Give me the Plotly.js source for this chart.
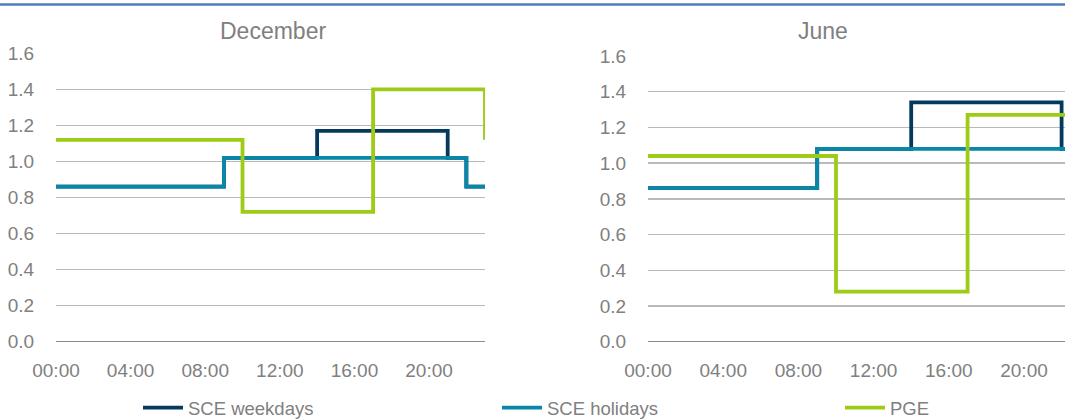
<!DOCTYPE html>
<html>
<head>
<meta charset="utf-8">
<script src="https://cdn.plot.ly/plotly-3.0.1.min.js"></script>
<style>html,body{margin:0;padding:0;background:#fff;}#chart{width:1065px;height:419px;}</style>
</head>
<body>
<div id="chart"></div>
<script>
// Hour of day (each value holds from that hour until the next)
const hours = [0,1,2,3,4,5,6,7,8,9,10,11,12,13,14,15,16,17,18,19,20,21,22,23];

// December
const decSCEWeekdays = [0.86,0.86,0.86,0.86,0.86,0.86,0.86,0.86,0.86,1.02,1.02,1.02,1.02,1.02,1.17,1.17,1.17,1.17,1.17,1.17,1.17,1.02,0.86,0.86];
const decSCEHolidays = [0.86,0.86,0.86,0.86,0.86,0.86,0.86,0.86,0.86,1.02,1.02,1.02,1.02,1.02,1.02,1.02,1.02,1.02,1.02,1.02,1.02,1.02,0.86,0.86];
const decPGE         = [1.12,1.12,1.12,1.12,1.12,1.12,1.12,1.12,1.12,1.12,0.72,0.72,0.72,0.72,0.72,0.72,0.72,1.40,1.40,1.40,1.40,1.40,1.40,1.12];

// June
const junSCEWeekdays = [0.86,0.86,0.86,0.86,0.86,0.86,0.86,0.86,0.86,1.08,1.08,1.08,1.08,1.08,1.34,1.34,1.34,1.34,1.34,1.34,1.34,1.34,1.08,1.08];
const junSCEHolidays = [0.86,0.86,0.86,0.86,0.86,0.86,0.86,0.86,0.86,1.08,1.08,1.08,1.08,1.08,1.08,1.08,1.08,1.08,1.08,1.08,1.08,1.08,1.08,1.08];
const junPGE         = [1.04,1.04,1.04,1.04,1.04,1.04,1.04,1.04,1.04,1.04,0.28,0.28,0.28,0.28,0.28,0.28,0.28,1.27,1.27,1.27,1.27,1.27,1.27,1.27];

const seriesNames = ["SCE weekdays", "SCE holidays", "PGE"];
const panelTitles = ["December", "June"];
const xTickVals = [0, 4, 8, 12, 16, 20];
const xTickText = ["00:00", "04:00", "08:00", "12:00", "16:00", "20:00"];
const yTickVals = [0, 0.2, 0.4, 0.6, 0.8, 1.0, 1.2, 1.4, 1.6];

const colors = ["#053a5e", "#0887a9", "#9dcb16"];
const W = 1065, H = 419;
const FONT = "Liberation Sans, Arial, sans-serif";
const GRAY = "#808080";

function tr(y, i, xa, ya, legend) {
  return {
    x: hours, y: y, type: "scatter", mode: "lines",
    line: {shape: "hv", color: colors[i], width: 3.8},
    name: seriesNames[i],
    xaxis: xa, yaxis: ya,
    showlegend: !!legend,
    legend: legend || "legend",
    hoverinfo: "skip"
  };
}

const data = [
  tr(decSCEWeekdays, 0, "x", "y", "legend"),
  tr(decSCEHolidays, 1, "x", "y", "legend2"),
  tr(decPGE, 2, "x", "y", "legend3"),
  tr(junSCEWeekdays, 0, "x2", "y2", null),
  tr(junSCEHolidays, 1, "x2", "y2", null),
  tr(junPGE, 2, "x2", "y2", null)
];

function xax(domain, range) {
  return {
    domain: domain, range: range, tickmode: "array",
    tickvals: xTickVals, ticktext: xTickText,
    showgrid: false, zeroline: false, showline: false,
    ticks: "outside", ticklen: 11, tickcolor: "rgba(0,0,0,0)",
    tickfont: {family: FONT, size: 19, color: GRAY},
    automargin: false,
    fixedrange: true
  };
}
function yax(domain, anchor) {
  return {
    domain: domain, range: [0, 1.6], anchor: anchor,
    tickmode: "array", tickvals: yTickVals, tickformat: ".1f",
    showgrid: true, gridcolor: "#b9b9b9", gridwidth: 1.5,
    zeroline: true, zerolinecolor: "#8c8c8c", zerolinewidth: 1.5,
    showline: false,
    ticks: "outside", ticklen: 17, tickcolor: "rgba(0,0,0,0)",
    tickfont: {family: FONT, size: 19, color: GRAY},
    automargin: false,
    fixedrange: true
  };
}

function leg(xPix) {
  return {
    orientation: "h", x: xPix / W, xanchor: "left",
    y: (H - 408) / H, yanchor: "middle",
    font: {family: FONT, size: 18.5, color: GRAY},
    bgcolor: "rgba(0,0,0,0)", borderwidth: 0, itemwidth: 40
  };
}

const layout = {
  width: W, height: H,
  margin: {l: 0, r: 0, t: 0, b: 0, autoexpand: false},
  paper_bgcolor: "#ffffff", plot_bgcolor: "#ffffff",
  xaxis: Object.assign(xax([56 / W, 485 / W], [0, 23]), {anchor: "y"}),
  yaxis: yax([(H - 341.7) / H, (H - 53.3) / H], "x"),
  xaxis2: Object.assign(xax([648 / W, 1], [0, (W - 648) / 18.8]), {anchor: "y2"}),
  yaxis2: yax([(H - 341.7) / H, (H - 56) / H], "x2"),
  showlegend: true,
  legend: leg(138),
  legend2: leg(497),
  legend3: leg(840),
  annotations: [
    {text: panelTitles[0], xref: "paper", yref: "paper", x: 273 / W, y: (H - 31) / H,
     xanchor: "center", yanchor: "middle", showarrow: false, font: {family: FONT, size: 23, color: GRAY}},
    {text: panelTitles[1], xref: "paper", yref: "paper", x: 823 / W, y: (H - 31) / H,
     xanchor: "center", yanchor: "middle", showarrow: false, font: {family: FONT, size: 23, color: GRAY}}
  ],
  shapes: [
    {type: "line", xref: "paper", yref: "paper", x0: 0, x1: 1, y0: (H - 4.5) / H, y1: (H - 4.5) / H,
     line: {color: "#4a7ebf", width: 2.5}}
  ]
};

Plotly.newPlot("chart", data, layout, {displayModeBar: false, staticPlot: true});
</script>
</body>
</html>
